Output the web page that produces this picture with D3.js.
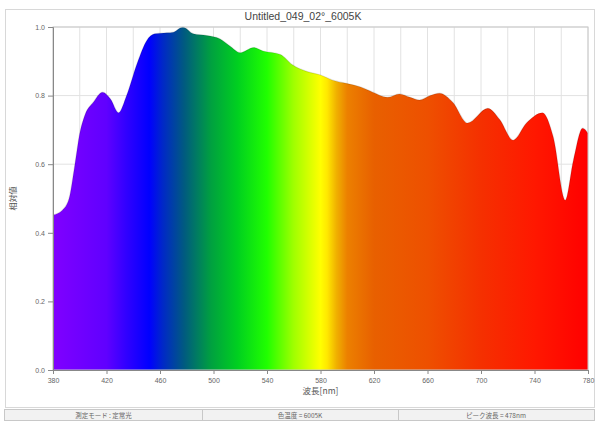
<!DOCTYPE html>
<html><head><meta charset="utf-8">
<script src="https://cdn.jsdelivr.net/npm/d3@7"></script>
<style>body{margin:0;background:#fff;}svg{display:block;font-family:"Liberation Sans",Arial,sans-serif;}</style>
</head><body>
<svg id="c" width="600" height="422"></svg>
<script>
const title = "Untitled_049_02°_6005K";
const wavelengths = [380,387,392,396,400,404,410,417,423,429,435,443,450,456,465,470,477,485,495,505,512,520,530,537,550,559,570,580,589,600,610,619,630,639,647,654,662,669,679,690,705,714,724,734,746,754,763,769,776,780];
const values =      [0.452,0.466,0.50,0.59,0.69,0.745,0.78,0.81,0.79,0.75,0.80,0.895,0.96,0.98,0.983,0.985,1.0,0.98,0.975,0.965,0.945,0.925,0.94,0.93,0.92,0.89,0.87,0.86,0.845,0.835,0.825,0.81,0.795,0.805,0.795,0.787,0.80,0.807,0.78,0.72,0.763,0.73,0.67,0.72,0.75,0.68,0.495,0.61,0.705,0.69];
const xTicks = [380,420,460,500,540,580,620,660,700,740,780];
const yTicks = [0.0,0.2,0.4,0.6,0.8,1.0];
const xLabel = "波長[nm]";
const yLabel = "相対値";
const statusTexts = ["測定モード : 定常光","色温度 = 6005K","ピーク波長 = 478nm"];
const gradNm =    [380,420,435,452,462,478,498,518,540,560,580,585,592,600,620,660,700,740,780];
const gradColor = ["#8000ff","#6000ff","#3000ff","#0000ff","#0028c8","#005a80","#00a040","#00d020","#20ff00","#a0ff00","#ffff00","#ffe800","#f0b000","#ec8000","#e86000","#ee5000","#f53000","#ff1800","#ff0000"];

const svg = d3.select("#c");
const x = d3.scaleLinear().domain([380,780]).range([53,588]);
const y = d3.scaleLinear().domain([0,1]).range([370,27]);

svg.append("rect").attr("x",5.5).attr("y",9.5).attr("width",589).attr("height",398).attr("fill","none").attr("stroke","#d8d8d8");

const g = svg.append("g");
g.selectAll("line.vg").data(d3.range(380,781,20)).join("line")
 .attr("x1",d=>x(d)).attr("x2",d=>x(d)).attr("y1",y(0)).attr("y2",y(1)).attr("stroke","#e2e2e2").attr("stroke-width",1);
g.selectAll("line.hg").data(yTicks).join("line")
 .attr("x1",x(380)).attr("x2",x(780)).attr("y1",d=>y(d)).attr("y2",d=>y(d)).attr("stroke","#e2e2e2").attr("stroke-width",1);

const defs = svg.append("defs");
const lg = defs.append("linearGradient").attr("id","spec").attr("gradientUnits","userSpaceOnUse")
 .attr("x1",x(380)).attr("x2",x(780)).attr("y1",0).attr("y2",0);
gradNm.forEach((n,i)=>lg.append("stop").attr("offset",(n-380)/400).attr("stop-color",gradColor[i]));

const data = wavelengths.map((w,i)=>({w, v: values[i]}));
const area = d3.area().x(d=>x(d.w)).y0(y(0)).y1(d=>y(d.v)).curve(d3.curveMonotoneX);
svg.append("path").datum(data).attr("d",area).attr("fill","url(#spec)");
const line = d3.line().x(d=>x(d.w)).y(d=>y(d.v)).curve(d3.curveMonotoneX);
svg.append("path").datum(data).attr("d",line).attr("fill","none").attr("stroke","#000").attr("stroke-opacity",0.12).attr("stroke-width",1.2);

svg.append("rect").attr("x",x(380)).attr("y",y(1)).attr("width",x(780)-x(380)).attr("height",y(0)-y(1)).attr("fill","none").attr("stroke","#c8c8c8");

const xAxis = d3.axisBottom(x).tickValues(xTicks).tickSize(4).tickFormat(d3.format("d"));
const xa = svg.append("g").attr("transform",`translate(0,${y(0)})`).call(xAxis);
const yAxis = d3.axisLeft(y).tickValues(yTicks).tickSize(5).tickFormat(d3.format(".1f"));
const ya = svg.append("g").attr("transform",`translate(${x(380)},0)`).call(yAxis);
[xa,ya].forEach(a=>{
  a.select(".domain").attr("stroke","#888");
  a.selectAll(".tick line").attr("stroke","#888");
  a.selectAll("text").attr("fill","#666").attr("font-size",7);
});
xa.selectAll("text").attr("dy","0.9em");

svg.append("text").attr("x",303).attr("y",20).attr("text-anchor","middle").attr("font-size",10.5).attr("fill","#444").text(title);
svg.append("text").attr("x",(x(380)+x(780))/2).attr("y",394).attr("text-anchor","middle").attr("font-size",8.5).attr("fill","#555")
 .attr("font-family","'Noto Sans CJK JP',sans-serif").text(xLabel);
svg.append("text").attr("transform",`translate(16,${(y(0)+y(1))/2}) rotate(-90)`).attr("text-anchor","middle").attr("font-size",8).attr("fill","#555")
 .attr("font-family","'Noto Sans CJK JP',sans-serif").text(yLabel);

const cells = [[5,202],[202,398],[398,594]];
svg.append("rect").attr("x",4.5).attr("y",409.5).attr("width",590).attr("height",11).attr("fill","#f2f2f2").attr("stroke","#c8c8c8");
cells.forEach((c,i)=>{
  if(i>0) svg.append("line").attr("x1",c[0]+0.5).attr("x2",c[0]+0.5).attr("y1",409.5).attr("y2",420.5).attr("stroke","#c8c8c8");
  svg.append("text").attr("x",(c[0]+c[1])/2).attr("y",418).attr("text-anchor","middle").attr("font-size",6.5).attr("fill","#666")
   .attr("font-family","'Noto Sans CJK JP',sans-serif").text(statusTexts[i]);
});
</script>
</body></html>
